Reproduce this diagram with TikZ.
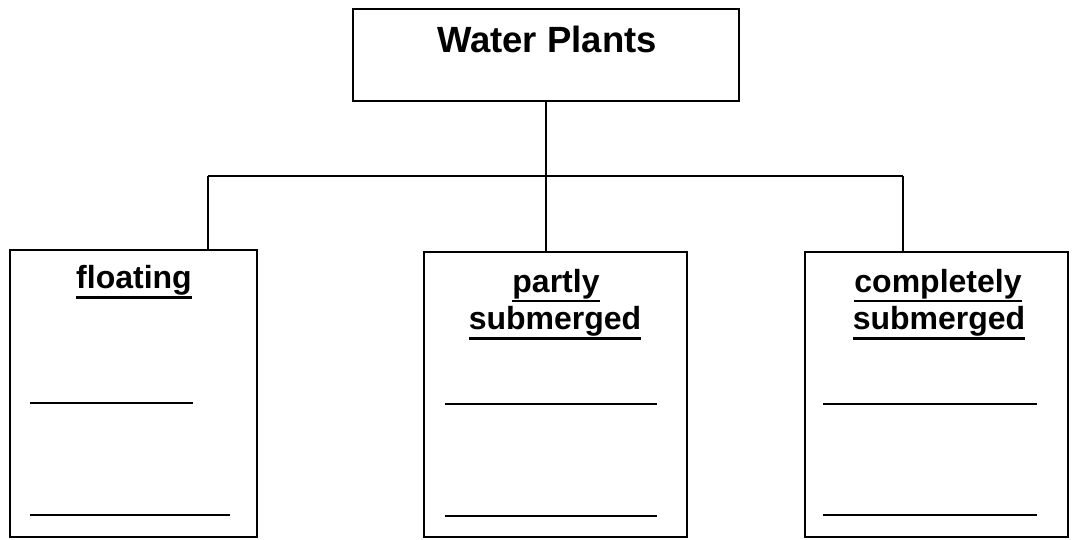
\documentclass[tikz,border=0pt]{standalone}
\usepackage{fontspec}
\setmainfont{Liberation Sans}
\newcommand\thickul[1]{\leavevmode\vtop{\hbox{#1}\kern1.2pt\hrule height 2.6pt}}
\begin{document}
\begin{tikzpicture}[x=1pt,y=-1pt,
  box/.style={draw,line width=2.6pt,rectangle,inner sep=0pt},
  conn/.style={line width=2.4pt},
  blank/.style={line width=2.2pt},
  titletext/.style={font=\fontsize{36.5}{42}\bfseries\selectfont,inner sep=0pt,anchor=base},
  headtext/.style={font=\fontsize{32}{37}\bfseries\selectfont,inner sep=0pt,anchor=base}]
\useasboundingbox (0,0) rectangle (1072,539);
% boxes
\node[box,minimum width=386pt,minimum height=92pt] (top) at (546,55) {};
\node[box,minimum width=247pt,minimum height=287pt] (left) at (133.5,393.5) {};
\node[box,minimum width=263pt,minimum height=285pt] (mid) at (555.5,394.5) {};
\node[box,minimum width=263pt,minimum height=285pt] (right) at (936.5,394.5) {};
% texts
\node[titletext] (ttop) at (547,52) {Water Plants};
\node[headtext] (tleft) at (134,288) {\thickul{floating}};
\node[headtext] (tmid1) at (556,292) {\thickul{partly}};
\node[headtext] (tmid2) at (555,329) {\thickul{submerged}};
\node[headtext] (tright1) at (938,292) {\thickul{completely}};
\node[headtext] (tright2) at (939,329) {\thickul{submerged}};
% connectors
\coordinate (busL) at (208,176);
\coordinate (busR) at (903,176);
\draw[conn] (top.south) -- (top.south |- mid.north);
\draw[conn] (busL) -- (busR);
\draw[conn] (busL) -- (busL |- left.north);
\draw[conn] (busR) -- (busR |- right.north);
% blank lines
\draw[blank] (30,403) -- (193,403);
\draw[blank] (30,515) -- (230,515);
\draw[blank] (445,404) -- (657,404);
\draw[blank] (445,516) -- (657,516);
\draw[blank] (823,404) -- (1037,404);
\draw[blank] (823,515) -- (1037,515);
\end{tikzpicture}
\end{document}
